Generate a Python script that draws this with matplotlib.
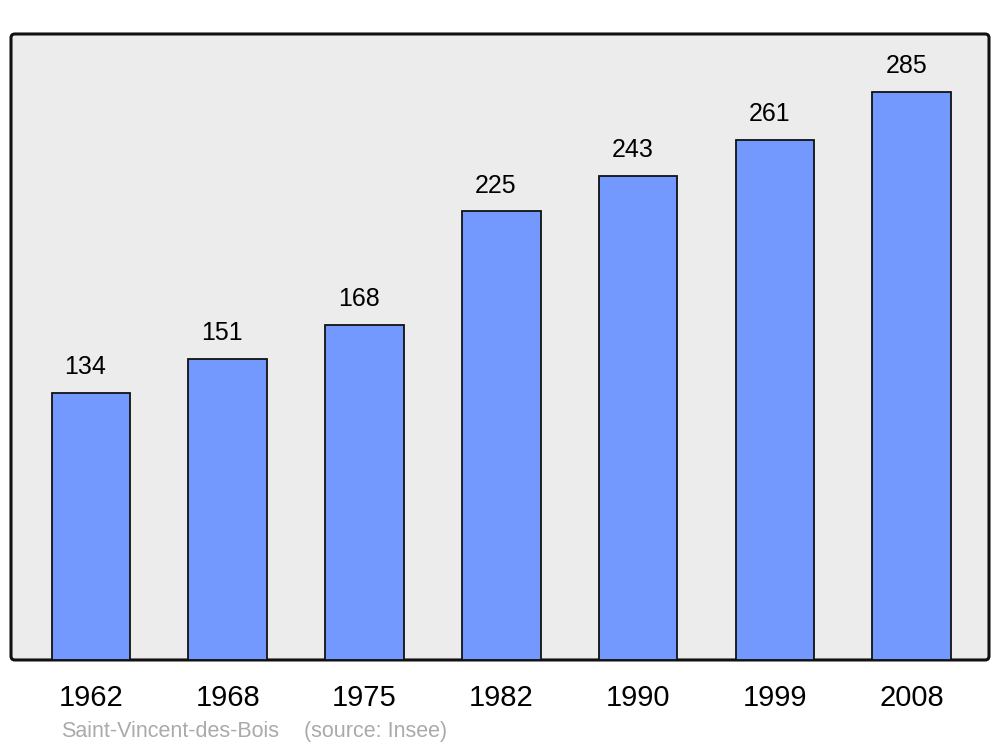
import matplotlib
matplotlib.use("Agg")
from matplotlib import pyplot as plt
from matplotlib.patches import FancyBboxPatch

years = ["1962", "1968", "1975", "1982", "1990", "1999", "2008"]
population = [134, 151, 168, 225, 243, 261, 285]
commune = "Saint-Vincent-des-Bois"
source = "(source: Insee)"

plt.rcParams["font.family"] = ["Liberation Sans", "DejaVu Sans"]


def main():
    fig = plt.figure(figsize=(10, 7.47), dpi=100)
    ax = fig.add_axes([0.011, 0.1165, 0.978, 0.838])
    ax.set_facecolor("none")
    for s in ax.spines.values():
        s.set_visible(False)

    # rounded frame with grey fill
    frame = FancyBboxPatch((0, 0), 1, 1, boxstyle="round,pad=0,rounding_size=0.004",
                           mutation_aspect=978 / 626, transform=ax.transAxes,
                           facecolor="#ececec", edgecolor="#111111", linewidth=2.2,
                           clip_on=False, zorder=0)
    ax.add_patch(frame)

    xs = list(range(len(years)))
    bars = ax.bar(xs, population, width=0.575, color="#7399ff",
                  edgecolor="#111111", linewidth=1.3, zorder=2)
    for b, v in zip(bars, population):
        ax.annotate(str(v), (b.get_x() + b.get_width() / 2, v),
                    xytext=(-4, 10), textcoords="offset points",
                    ha="center", va="bottom", fontsize=18)

    ax.set_xlim(-0.585, 6.565)
    ax.set_ylim(0, 314)
    ax.set_yticks([])
    ax.set_xticks(xs)
    ax.set_xticklabels(years, fontsize=21)
    ax.tick_params(axis="x", length=0, pad=17)

    fig.text(0.061, 0.013, commune, fontsize=15.5, color="#aaaaaa", ha="left", va="baseline")
    fig.text(0.304, 0.013, source, fontsize=15.5, color="#aaaaaa", ha="left", va="baseline")

    fig.savefig("out.png", dpi=100)


if __name__ == "__main__":
    main()
